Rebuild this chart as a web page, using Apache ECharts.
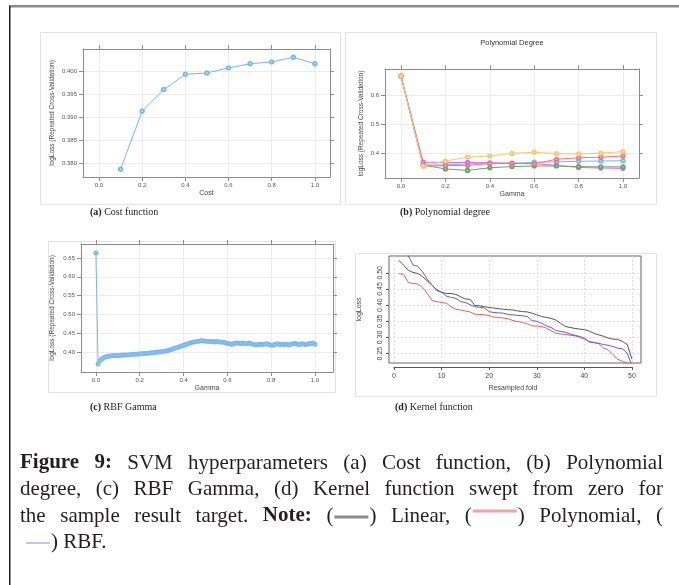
<!DOCTYPE html>
<html><head><meta charset="utf-8">
<script src="https://cdn.jsdelivr.net/npm/echarts@6/dist/echarts.min.js"></script>
<style>html,body{margin:0;padding:0;background:#fff;}#c{width:679px;height:585px;}</style>
</head><body><div id="c"></div><script>
// ---------------- DATA ----------------
// (a) Cost function
const costValues = [0.1, 0.2, 0.3, 0.4, 0.5, 0.6, 0.7, 0.8, 0.9, 1.0];
const costLogLoss = [0.3787, 0.3913, 0.3960, 0.3993, 0.3996, 0.4007, 0.4016, 0.4020, 0.4030, 0.4016];
const costXTicks = [0.0, 0.2, 0.4, 0.6, 0.8, 1.0];
const costYTicks = [0.380, 0.385, 0.390, 0.395, 0.400];

// (b) Polynomial degree (logLoss vs gamma, one line per degree)
const polyGamma = [0.0, 0.1, 0.2, 0.3, 0.4, 0.5, 0.6, 0.7, 0.8, 0.9, 1.0];
const polyDegreeNames = ['1', '2', '3', '4', '5'];
const polyDeg1 = [0.665, 0.361, 0.362, 0.365, 0.366, 0.367, 0.371, 0.372, 0.374, 0.375, 0.376];
const polyDeg2 = [0.665, 0.371, 0.370, 0.370, 0.369, 0.367, 0.366, 0.360, 0.353, 0.351, 0.350];
const polyDeg3 = [0.665, 0.361, 0.348, 0.343, 0.352, 0.356, 0.358, 0.358, 0.356, 0.355, 0.355];
const polyDeg4 = [0.665, 0.358, 0.359, 0.360, 0.367, 0.368, 0.365, 0.381, 0.386, 0.388, 0.392];
const polyDeg5 = [0.665, 0.358, 0.375, 0.388, 0.392, 0.401, 0.405, 0.400, 0.399, 0.402, 0.407];
const polyXTicks = [0.0, 0.2, 0.4, 0.6, 0.8, 1.0];
const polyYTicks = [0.4, 0.5, 0.6];

// (c) RBF gamma
const rbfGamma = [0.00,0.01,0.02,0.03,0.04,0.05,0.06,0.07,0.08,0.09,0.10,0.11,0.12,0.13,0.14,0.15,0.16,0.17,0.18,0.19,
  0.20,0.21,0.22,0.23,0.24,0.25,0.26,0.27,0.28,0.29,0.30,0.31,0.32,0.33,0.34,0.35,0.36,0.37,0.38,0.39,
  0.40,0.41,0.42,0.43,0.44,0.45,0.46,0.47,0.48,0.49,0.50,0.51,0.52,0.53,0.54,0.55,0.56,0.57,0.58,0.59,
  0.60,0.61,0.62,0.63,0.64,0.65,0.66,0.67,0.68,0.69,0.70,0.71,0.72,0.73,0.74,0.75,0.76,0.77,0.78,0.79,
  0.80,0.81,0.82,0.83,0.84,0.85,0.86,0.87,0.88,0.89,0.90,0.91,0.92,0.93,0.94,0.95,0.96,0.97,0.98,0.99,1.00];
const rbfLogLoss = [0.663,0.368,0.378,0.383,0.386,0.388,0.389,0.390,0.390,0.391,0.391,0.391,0.392,0.392,0.392,0.393,0.393,0.394,0.394,0.395,
  0.395,0.396,0.396,0.397,0.397,0.398,0.398,0.399,0.400,0.400,0.401,0.402,0.403,0.404,0.406,0.408,0.410,0.412,0.414,0.416,
  0.418,0.420,0.422,0.424,0.426,0.427,0.428,0.429,0.430,0.430,0.429,0.429,0.428,0.428,0.427,0.428,0.427,0.427,0.426,0.425,
  0.423,0.422,0.421,0.423,0.424,0.424,0.423,0.424,0.422,0.423,0.424,0.422,0.420,0.419,0.420,0.421,0.420,0.421,0.422,0.420,
  0.418,0.419,0.421,0.422,0.420,0.421,0.420,0.421,0.419,0.421,0.422,0.423,0.421,0.420,0.422,0.421,0.420,0.422,0.423,0.424,0.421];
const rbfXTicks = [0.0, 0.2, 0.4, 0.6, 0.8, 1.0];
const rbfYTicks = [0.40, 0.45, 0.50, 0.55, 0.60, 0.65];

// (d) Kernel function (sorted logLoss per resampled fold)
const folds = [1,2,3,4,5,6,7,8,9,10,11,12,13,14,15,16,17,18,19,20,21,22,23,24,25,26,27,28,29,30,31,32,33,34,35,36,37,38,39,40,41,42,43,44,45,46,47,48,49,50];
const kernelLinear = [0.539,0.524,0.508,0.501,0.498,0.488,0.475,0.462,0.447,0.440,0.436,0.436,0.433,0.426,0.419,0.418,0.399,0.398,0.395,0.393,
  0.391,0.389,0.387,0.386,0.385,0.382,0.380,0.379,0.375,0.370,0.365,0.362,0.359,0.354,0.344,0.334,0.331,0.328,0.326,0.324,
  0.320,0.313,0.308,0.304,0.298,0.295,0.294,0.288,0.278,0.233];
const kernelPolynomial = [0.497,0.496,0.470,0.467,0.465,0.455,0.436,0.414,0.411,0.408,0.406,0.395,0.387,0.385,0.382,0.379,0.372,0.371,0.370,0.368,
  0.363,0.362,0.360,0.358,0.352,0.349,0.347,0.342,0.336,0.335,0.334,0.329,0.321,0.313,0.311,0.309,0.307,0.305,0.301,0.295,
  0.288,0.285,0.281,0.267,0.262,0.247,0.233,0.226,0.221,0.214];
const kernelRBF = [0.600,0.575,0.553,0.524,0.520,0.503,0.480,0.462,0.445,0.440,0.428,0.424,0.421,0.411,0.408,0.401,0.395,0.393,0.391,0.380,
  0.377,0.376,0.375,0.371,0.370,0.368,0.367,0.365,0.352,0.350,0.344,0.336,0.331,0.321,0.319,0.316,0.311,0.307,0.303,0.298,
  0.286,0.284,0.282,0.278,0.276,0.272,0.267,0.265,0.252,0.212];
const kernelXTicks = [0, 10, 20, 30, 40, 50];
const kernelYTicks = [0.25, 0.30, 0.35, 0.40, 0.45, 0.50];

// ---------------- STYLE / LAYOUT ----------------
const SANS = '"Liberation Sans", Arial, sans-serif';
const SERIF = '"Liberation Serif", "Times New Roman", serif';
const BOXC = '#8c8c8c';
const GRIDC = '#ececec';

const grids = [], xAxes = [], yAxes = [], series = [], graphics = [];
const zip = (a, b) => a.map((v, i) => [v, b[i]]);

function lattice(g, x, y) {
  const gi = grids.length;
  grids.push({left: g.l, top: g.t, width: g.w, height: g.h, show: false, outerBoundsMode: 'none'});
  const line = {show: true, onZero: false, lineStyle: {color: BOXC, width: 1}};
  const tick = (vals) => ({show: true, inside: false, length: 4, customValues: vals, lineStyle: {color: BOXC, width: 1}});
  const xi = xAxes.length, yi = yAxes.length;
  xAxes.push({gridIndex: gi, type: 'value', position: 'bottom', min: x.min, max: x.max,
    axisLine: line, axisTick: tick(x.ticks),
    axisLabel: {customValues: x.ticks, formatter: v => v.toFixed(x.dec), fontSize: 6, color: '#555', margin: 5, fontFamily: SANS},
    splitLine: {show: true, lineStyle: {color: GRIDC, width: 1}},
    name: x.name, nameLocation: 'middle', nameGap: x.gap, nameTextStyle: {fontSize: 7, color: '#444', fontFamily: SANS}});
  xAxes.push({gridIndex: gi, type: 'value', position: 'top', min: x.min, max: x.max,
    axisLine: line, axisTick: tick(x.ticks), axisLabel: {show: false}, splitLine: {show: false}});
  yAxes.push({gridIndex: gi, type: 'value', position: 'left', min: y.min, max: y.max,
    axisLine: line, axisTick: tick(y.ticks),
    axisLabel: {customValues: y.ticks, formatter: v => v.toFixed(y.dec), fontSize: 6, color: '#555', margin: 6, fontFamily: SANS},
    splitLine: {show: true, lineStyle: {color: GRIDC, width: 1}},
    name: y.name, nameLocation: 'middle', nameGap: y.gap, nameTextStyle: {fontSize: 6.5, color: '#444', fontFamily: SANS}});
  yAxes.push({gridIndex: gi, type: 'value', position: 'right', min: y.min, max: y.max,
    axisLine: line, axisTick: tick(y.ticks), axisLabel: {show: false}, splitLine: {show: false}});
  return {xi: xi, yi: yi};
}

function latticeLine(ax, data, color, name, size) {
  series.push({type: 'line', name: name, xAxisIndex: ax.xi, yAxisIndex: ax.yi, data: data,
    symbol: 'emptyCircle', symbolSize: size, showSymbol: true,
    lineStyle: {color: color, width: 1}, itemStyle: {color: color, borderColor: color, borderWidth: 0.9},
    emphasis: {disabled: true}, z: 3});
}

const yTitle = 'logLoss (Repeated Cross-Validation)';

// (a)
const axA = lattice({l: 83, t: 49, w: 247, h: 128},
  {min: -0.074, max: 1.07, ticks: costXTicks, dec: 1, name: 'Cost', gap: 13},
  {min: 0.377, max: 0.4048, ticks: costYTicks, dec: 3, name: yTitle, gap: 27});
latticeLine(axA, zip(costValues, costLogLoss), '#74b6f4', 'Cost', 3.5);

// (b)
const axB = lattice({l: 385, t: 69, w: 254, h: 109},
  {min: -0.072, max: 1.072, ticks: polyXTicks, dec: 1, name: 'Gamma', gap: 13},
  {min: 0.317, max: 0.689, ticks: polyYTicks, dec: 1, name: yTitle, gap: 20});
const polySeries = [polyDeg1, polyDeg2, polyDeg3, polyDeg4, polyDeg5];
const polyColors = ['#7ab8f4', '#e866e2', '#66a466', '#f27482', '#f8c870'];
polySeries.forEach((s, i) => latticeLine(axB, zip(polyGamma, s), polyColors[i], polyDegreeNames[i], 3.2));

// (c)
const axC = lattice({l: 81, t: 244, w: 252, h: 128},
  {min: -0.068, max: 1.082, ticks: rbfXTicks, dec: 1, name: 'Gamma', gap: 13},
  {min: 0.347, max: 0.687, ticks: rbfYTicks, dec: 2, name: yTitle, gap: 25});
latticeLine(axC, zip(rbfGamma, rbfLogLoss), '#7ab8f4', 'RBF', 3);

// (d) base-R style
const gD = {l: 389, t: 256, w: 252, h: 107};
const dX = {min: -1.05, max: 51.9};
const dY = {min: 0.221, max: 0.552};
const giD = grids.length;
grids.push({left: gD.l, top: gD.t, width: gD.w, height: gD.h, show: true, borderColor: '#666', borderWidth: 1, backgroundColor: 'transparent', outerBoundsMode: 'none'});
const xiD = xAxes.length, yiD = yAxes.length;
xAxes.push({gridIndex: giD, type: 'value', min: dX.min, max: dX.max,
  axisLine: {show: false}, axisTick: {show: false, customValues: kernelXTicks}, axisLabel: {show: false, customValues: kernelXTicks},
  splitLine: {show: true, lineStyle: {color: '#dcdcdc', type: [2, 2], width: 1}}});
yAxes.push({gridIndex: giD, type: 'value', min: dY.min, max: dY.max,
  axisLine: {show: false, onZero: false}, axisTick: {show: true, length: 3, customValues: kernelYTicks, lineStyle: {color: '#555'}},
  axisLabel: {customValues: kernelYTicks, formatter: v => v.toFixed(2), rotate: 90, fontSize: 7, color: '#444', margin: 5, fontFamily: SANS},
  splitLine: {show: true, lineStyle: {color: '#dcdcdc', type: [2, 2], width: 1}},
  name: 'logLoss', nameLocation: 'middle', nameGap: 26, nameTextStyle: {fontSize: 7, color: '#444', fontFamily: SANS}});
// separate R-style x axis spanning 0..50 below the box
const pxPerFold = gD.w / (dX.max - dX.min);
const giDx = grids.length;
grids.push({left: gD.l + (0 - dX.min) * pxPerFold, top: gD.t + gD.h + 4, width: 50 * pxPerFold, height: 1, show: false, outerBoundsMode: 'none'});
xAxes.push({gridIndex: giDx, type: 'value', min: 0, max: 50, interval: 10, position: 'top',
  axisLine: {show: true, onZero: false, lineStyle: {color: '#555', width: 1}},
  axisTick: {show: true, inside: true, length: 3, lineStyle: {color: '#555'}},
  axisLabel: {show: true, inside: true, fontSize: 7, color: '#444', margin: 6, fontFamily: SANS},
  splitLine: {show: false}});
yAxes.push({gridIndex: giDx, type: 'value', show: false, min: 0, max: 1});
graphics.push({type: 'text', style: {text: 'Resampled fold', x: gD.l + (25 - dX.min) * pxPerFold, y: 388, fontSize: 7, fontFamily: SANS, fill: '#444', textAlign: 'center', textVerticalAlign: 'middle'}, silent: true});
const kernelSeries = [[kernelLinear, '#555555', 'Linear'], [kernelPolynomial, '#f25a5a', 'Polynomial'], [kernelRBF, '#5a5af0', 'RBF']];
kernelSeries.forEach(k => series.push({type: 'line', name: k[2], xAxisIndex: xiD, yAxisIndex: yiD,
  data: zip(folds, k[0]), symbol: 'none', clip: true, lineStyle: {color: k[1], width: 1}, emphasis: {disabled: true}}));

// ---------------- GRAPHICS (frame, captions) ----------------
graphics.push({type: 'rect', shape: {x: 9, y: 5, width: 670, height: 2.5}, style: {fill: '#8a8a8a'}, silent: true});
graphics.push({type: 'rect', shape: {x: 9, y: 6, width: 1.5, height: 579}, style: {fill: '#1c1c1c'}, silent: true});
const boxes = [[40.5, 32.5, 300, 172], [345.5, 32.5, 311, 172], [48.5, 241.5, 287, 151], [355.5, 253.5, 301, 143]];
boxes.forEach(b => graphics.push({type: 'rect', shape: {x: b[0], y: b[1], width: b[2], height: b[3]}, style: {fill: 'none', stroke: '#e2e2e2', lineWidth: 1}, silent: true, z: -1}));
graphics.push({type: 'text', style: {text: 'Polynomial Degree', x: 512, y: 43, fontSize: 7.5, fontFamily: SANS, fill: '#333', textAlign: 'center', textVerticalAlign: 'middle'}, silent: true});

const subCaps = [['(a)', 'Cost function', 90, 212], ['(b)', 'Polynomial degree', 400, 212], ['(c)', 'RBF Gamma', 90, 407], ['(d)', 'Kernel function', 395, 407]];
subCaps.forEach(c => graphics.push({type: 'text', style: {
  text: '{b|' + c[0] + '} ' + c[1], x: c[2], y: c[3], fontSize: 10, fontFamily: SERIF, fill: '#222', textVerticalAlign: 'middle',
  rich: {b: {fontSize: 10, fontFamily: SERIF, fontWeight: 'bold', fill: '#222'}}}, silent: true}));

// Figure caption, justified
const CAP_FS = 21;
const capLines = [
  {y: 463, justify: true, words: [[{t: 'Figure', b: 1}], [{t: '9:', b: 1}], 'SVM', 'hyperparameters', '(a)', 'Cost', 'function,', '(b)', 'Polynomial']},
  {y: 489, justify: true, words: ['degree,', '(c)', 'RBF', 'Gamma,', '(d)', 'Kernel', 'function', 'swept', 'from', 'zero', 'for']},
  {y: 516, justify: true, words: ['the', 'sample', 'result', 'target.', [{t: 'Note:', b: 1}], ['(', {sw: '#8a8a8a', w: 36, lw: 3, dy: 1}, ')'], 'Linear,', ['(', {sw: '#f4a2a6', w: 46, lw: 3, dy: -5}, ')'], 'Polynomial,', '(']},
  {y: 542, justify: false, words: [[{sw: '#c4c4f2', w: 26, lw: 2, dy: 1}, ')'], 'RBF.']}
];
const ctx = document.createElement('canvas').getContext('2d');
function fontOf(b) { return (b ? 'bold ' : '') + CAP_FS + 'px ' + SERIF; }
function pieceW(p) {
  if (typeof p === 'string') p = {t: p};
  if (p.sw) return p.w;
  ctx.font = fontOf(p.b); return ctx.measureText(p.t).width;
}
const X0 = 20, X1 = 663;
ctx.font = fontOf(0);
const spaceW = ctx.measureText(' ').width;
capLines.forEach(line => {
  const words = line.words.map(w => Array.isArray(w) ? w : [w]);
  const widths = words.map(w => w.reduce((s, p) => s + pieceW(p), 0));
  const total = widths.reduce((a, b) => a + b, 0);
  const gap = line.justify ? (X1 - X0 - total) / (words.length - 1) : spaceW;
  let x = line.justify ? X0 : 25;
  words.forEach((w, i) => {
    w.forEach(p => {
      if (typeof p === 'string') p = {t: p};
      const pw = pieceW(p);
      if (p.sw) {
        graphics.push({type: 'line', shape: {x1: x + 1, y1: line.y + p.dy, x2: x + pw - 1, y2: line.y + p.dy}, style: {stroke: p.sw, lineWidth: p.lw}, silent: true});
      } else {
        graphics.push({type: 'text', style: {text: p.t, x: x, y: line.y, fontSize: CAP_FS, fontFamily: SERIF, fontWeight: p.b ? 'bold' : 'normal', fill: '#231f20', textVerticalAlign: 'middle'}, silent: true});
      }
      x += pw;
    });
    x += gap;
  });
});

const chart = echarts.init(document.getElementById('c'), null, {renderer: 'canvas', width: 679, height: 585});
chart.setOption({
  animation: false,
  backgroundColor: '#ffffff',
  grid: grids, xAxis: xAxes, yAxis: yAxes, series: series,
  graphic: graphics
});
</script></body></html>
